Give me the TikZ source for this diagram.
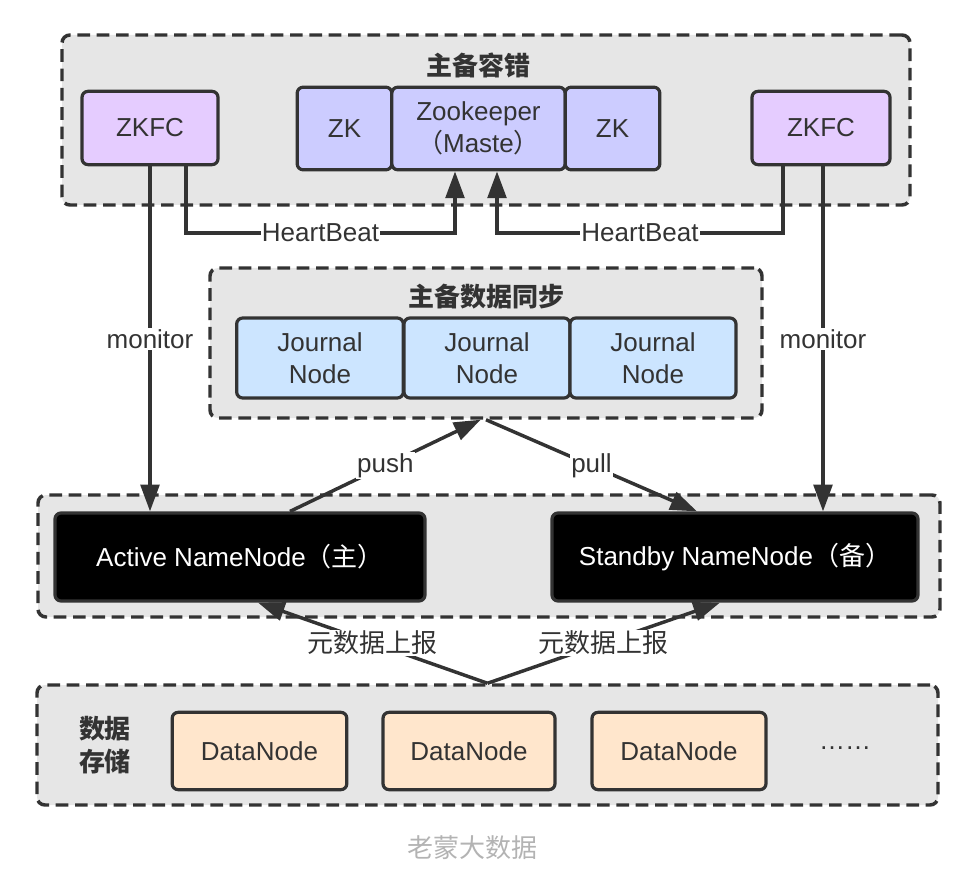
\documentclass[tikz,border=0pt]{standalone}
\usepackage{fontspec}
\setmainfont{Liberation Sans}
\newfontfamily\cjk{Noto Sans CJK SC}
\usepackage{tikz}
\usetikzlibrary{arrows.meta}
\definecolor{ink}{HTML}{333333}
\definecolor{groupbg}{HTML}{E6E6E6}
\definecolor{zkfcbg}{HTML}{E5CCFF}
\definecolor{zkbg}{HTML}{CCCCFF}
\definecolor{journalbg}{HTML}{CCE5FF}
\definecolor{databg}{HTML}{FFE6CC}
\definecolor{markgray}{HTML}{B3B3B3}

\begin{document}
\begin{tikzpicture}[x=0.75pt, y=-0.75pt,
  group/.style={draw=ink, fill=groupbg, line width=2.6pt, dash pattern=on 9.5pt off 5pt, rounded corners=6pt, inner sep=0pt},
  box/.style={draw=ink, line width=2.4pt, rounded corners=4.5pt, align=center, text=ink, font=\fontsize{19.5}{24}\selectfont, inner sep=0pt},
  namenode/.style={box, fill=black, text=white, minimum height=66pt},
  title/.style={font=\fontsize{19.5}{25}\selectfont\cjk\bfseries, text=ink, align=center},
  conn/.style={draw=ink, line width=2.6pt, -{Triangle[length=20pt,width=14pt]}},
  lbl/.style={fill=white, font=\fontsize{19.5}{24}\selectfont, text=ink, inner sep=1pt}
]
  \useasboundingbox (0,0) rectangle (958,870);

  % groups
  \node[group, minimum width=636pt, minimum height=127.5pt] (ha) at (486,120) {};
  \node[group, minimum width=414pt, minimum height=112.5pt] (sync) at (486,343) {};
  \node[group, minimum width=676.5pt, minimum height=91.5pt] (nn) at (489,556) {};
  \node[group, minimum width=675.75pt, minimum height=90pt] (storage) at (487.5,745) {};

  \node[title] (hatitle) at (478,65) {主备容错};
  \node[title] (synctitle) at (486,297) {主备数据同步};
  \node[title] (storetitle) at (105,745) {数据\\存储};

  % failover
  \node[box, fill=zkfcbg, minimum width=102pt, minimum height=55pt] (zkfcL) at (150,128) {ZKFC};
  \node[box, fill=zkfcbg, minimum width=103.5pt, minimum height=55pt] (zkfcR) at (821,128) {ZKFC};
  \node[box, fill=zkbg, minimum width=71pt, minimum height=62pt] (zkL) at (344.5,128.5) {ZK};
  \node[box, fill=zkbg, minimum width=130pt, minimum height=62pt] (zkm) at (478.5,128.5) {Zookeeper\\{\cjk （}Maste{\cjk ）}};
  \node[box, fill=zkbg, minimum width=71pt, minimum height=62pt] (zkR) at (612.5,128.5) {ZK};

  % journal
  \node[box, fill=journalbg, minimum width=125pt, minimum height=60pt] (jn1) at (320,358) {Journal\\Node};
  \node[box, fill=journalbg, minimum width=124.5pt, minimum height=60pt] (jn2) at (487,358) {Journal\\Node};
  \node[box, fill=journalbg, minimum width=124.5pt, minimum height=60pt] (jn3) at (653,358) {Journal\\Node};

  % namenodes
  \node[namenode, minimum width=277.5pt] (nnA) at (240,557) {Active NameNode{\cjk （主）}};
  \node[namenode, minimum width=274.5pt] (nnS) at (735,557) {Standby NameNode{\cjk （备）}};

  % datanodes
  \node[box, fill=databg, minimum width=131pt, minimum height=58pt] (dn1) at (259.5,751) {DataNode};
  \node[box, fill=databg, minimum width=129pt, minimum height=58pt] (dn2) at (469,751) {DataNode};
  \node[box, fill=databg, minimum width=130.5pt, minimum height=58pt] (dn3) at (679,751) {DataNode};
  \node[text=ink, font=\fontsize{19.5}{24}\selectfont] (more) at (845,748) {……};

  \node[text=markgray, font=\fontsize{19.5}{24}\selectfont\cjk] (mark) at (472,848) {老蒙大数据};

  % connectors
  \coordinate (hbl) at (455,233);
  \coordinate (hbr) at (497,233);
  \draw[conn] ([xshift=27pt]zkfcL.south) |- node[lbl, pos=0.75]{HeartBeat} (hbl) -- (hbl |- zkm.south);
  \draw[conn] ([xshift=-28.5pt]zkfcR.south) |- node[lbl, pos=0.75]{HeartBeat} (hbr) -- (hbr |- zkm.south);
  \draw[conn] (zkfcL.south) -- node[lbl]{monitor} (zkfcL.south |- nnA.north);
  \draw[conn] ([xshift=1.5pt]zkfcR.south) -- node[lbl]{monitor} ([xshift=1.5pt]zkfcR.south |- nnS.north);
  \draw[conn] ([xshift=37.5pt]nnA.north) -- node[lbl]{push} ([xshift=-4pt]sync.south);
  \draw[conn] (sync.south) -- node[lbl]{pull} ([xshift=-28.5pt]nnS.north);
  \draw[conn] (storage.north) -- node[lbl, font=\fontsize{19.5}{24}\selectfont\cjk]{元数据上报} ([xshift=13.5pt]nnA.south);
  \draw[conn] (storage.north) -- node[lbl, font=\fontsize{19.5}{24}\selectfont\cjk]{元数据上报} ([xshift=-11.25pt]nnS.south);
\end{tikzpicture}
\end{document}
